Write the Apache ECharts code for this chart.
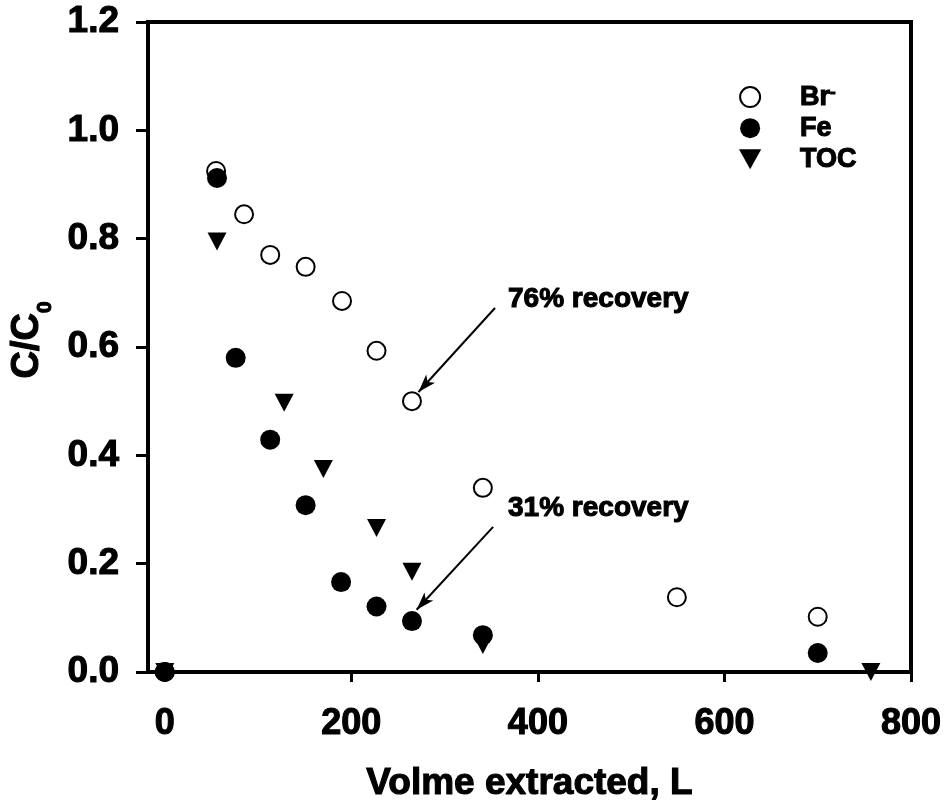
<!DOCTYPE html>
<html>
<head>
<meta charset="utf-8">
<script src="https://cdn.jsdelivr.net/npm/echarts@6/dist/echarts.min.js"></script>
<style>
html, body { margin: 0; padding: 0; background: #fff; }
#chart { width: 951px; height: 809px; }
</style>
</head>
<body>
<div id="chart"></div>
<script>
// Axis ticks
const xTicks = [0, 200, 400, 600, 800];

// Bromide tracer (C/C0 vs volume extracted, L)
const brVolume = [0, 55, 85, 113, 151, 190, 227, 265, 341, 549, 700];
const brRatio  = [0, 0.925, 0.845, 0.770, 0.748, 0.685, 0.593, 0.500, 0.340, 0.138, 0.102];

// Iron
const feVolume = [0, 56, 76, 113, 151, 189, 227, 265, 341, 700];
const feRatio  = [0, 0.912, 0.580, 0.429, 0.308, 0.166, 0.121, 0.094, 0.068, 0.035];

// Total organic carbon
const tocVolume = [0, 56, 128, 170, 227, 265, 341, 757];
const tocRatio  = [0, 0.795, 0.497, 0.375, 0.266, 0.185, 0.050, 0.0];

// Recovery call-outs: label anchor, arrow tail and arrow tip (data units)
const noteText = ['76% recovery', '31% recovery'];
const noteAt   = [[368, 0.688], [368, 0.303]];
const noteFrom = [[354, 0.672], [352, 0.268]];
const noteTo   = [[272, 0.517], [270, 0.115]];

const FONT = "'Liberation Sans', Arial, Helvetica, sans-serif";
const downTriangle = 'path://M0,0L20,0L10,18Z';
// heavier strokes for the bold lettering
const heavy = { textBorderColor: '#000', textBorderWidth: 1.1 };

function pairs(xs, ys) { return xs.map((x, i) => [x, ys[i]]); }

const chart = echarts.init(document.getElementById('chart'), null, { renderer: 'canvas' });

chart.setOption({
  animation: false,
  backgroundColor: '#fff',
  grid: {
    left: 148, right: 40, top: 22, bottom: 137,
    containLabel: false, outerBoundsMode: 'none',
    show: true, borderColor: '#000', borderWidth: 4, backgroundColor: 'transparent'
  },
  legend: {
    orient: 'vertical',
    left: 734, top: 78,
    itemWidth: 90, itemHeight: 20, itemGap: 3,
    data: ['Br-', 'Fe', 'TOC'],
    formatter: name => name === 'Br-' ? 'Br{sup|-}' : name,
    textStyle: Object.assign({
      fontFamily: FONT, fontSize: 27, fontWeight: 'bold', color: '#000', lineHeight: 27,
      rich: {
        sup: Object.assign({ fontFamily: FONT, fontSize: 17, fontWeight: 'bold', color: '#000', verticalAlign: 'top', lineHeight: 14 }, heavy)
      }
    }, heavy)
  },
  xAxis: {
    type: 'value', min: -18, max: 800,
    axisLine: { show: true, onZero: false, lineStyle: { color: '#000', width: 4 } },
    axisTick: { show: true, inside: false, length: 10, customValues: xTicks, lineStyle: { color: '#000', width: 3 } },
    axisLabel: Object.assign({ customValues: xTicks, fontFamily: FONT, fontSize: 36, fontWeight: 'bold', color: '#000', margin: 34 }, heavy),
    splitLine: { show: false },
    name: 'Volme extracted, L',
    nameLocation: 'middle', nameGap: 93,
    nameTextStyle: Object.assign({ fontFamily: FONT, fontSize: 37, fontWeight: 'bold', color: '#000' }, heavy)
  },
  yAxis: {
    type: 'value', min: 0, max: 1.2, interval: 0.2,
    axisLine: { show: true, onZero: false, lineStyle: { color: '#000', width: 4 } },
    axisTick: { show: true, inside: false, length: 12, lineStyle: { color: '#000', width: 3 } },
    axisLabel: Object.assign({ formatter: v => v.toFixed(1), fontFamily: FONT, fontSize: 37, fontWeight: 'bold', color: '#000', margin: 29 }, heavy),
    splitLine: { show: false },
    name: 'C/C{sub|0}',
    nameLocation: 'middle', nameGap: 81, nameRotate: 90,
    nameTextStyle: Object.assign({
      fontFamily: FONT, fontSize: 38, fontWeight: 'bold', color: '#000', lineHeight: 56,
      padding: [0, 0, 0, 14],
      rich: {
        sub: Object.assign({ fontFamily: FONT, fontSize: 21, fontWeight: 'bold', color: '#000', verticalAlign: 'bottom', lineHeight: 21 }, heavy)
      }
    }, heavy)
  },
  series: [
    {
      name: 'Br-', type: 'scatter',
      data: pairs(brVolume, brRatio),
      symbol: 'circle', symbolSize: 18,
      itemStyle: { color: '#fff', borderColor: '#000', borderWidth: 2, opacity: 1 },
      markLine: {
        silent: true, animation: false,
        symbol: ['none', 'arrow'], symbolSize: [9, 18],
        lineStyle: { color: '#000', width: 2, type: 'solid' },
        label: { show: false },
        data: noteFrom.map((f, i) => [{ coord: f }, { coord: noteTo[i] }])
      },
      markPoint: {
        silent: true, animation: false,
        symbol: 'circle', symbolSize: 0,
        label: Object.assign({
          show: true, position: 'right', distance: 0,
          fontFamily: FONT, fontSize: 28, fontWeight: 'bold', color: '#000',
          formatter: p => p.name
        }, heavy),
        data: noteAt.map((c, i) => ({ name: noteText[i], coord: c }))
      }
    },
    {
      name: 'Fe', type: 'scatter',
      data: pairs(feVolume, feRatio),
      symbol: 'circle', symbolSize: 20,
      itemStyle: { color: '#000', opacity: 1 }
    },
    {
      name: 'TOC', type: 'scatter',
      data: pairs(tocVolume, tocRatio),
      symbol: downTriangle, symbolSize: [19, 18],
      itemStyle: { color: '#000', opacity: 1 }
    }
  ]
});
</script>
</body>
</html>
